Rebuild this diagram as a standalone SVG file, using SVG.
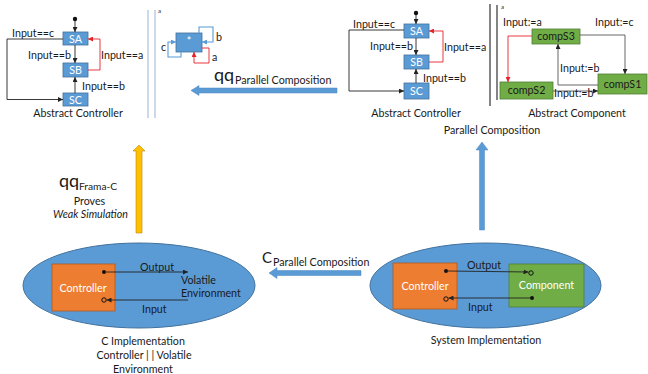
<svg xmlns="http://www.w3.org/2000/svg" width="648" height="374" viewBox="0 0 648 374">
  <style>
    text { font-family: Lato, "Open Sans", "Liberation Sans", sans-serif; fill: #1a1a1a; font-size: 10.7px; }
    .mid { text-anchor: middle; }
    .wt { fill: #fff; }
    .st { fill: #5b9bd5; stroke: #41719c; stroke-width: 0.8; }
    .gr { fill: #70ad47; stroke: #507e32; stroke-width: 0.8; }
    .or { fill: #ed7d31; stroke: #ae5a21; stroke-width: 0.8; }
    .ell { fill: #5b9bd5; stroke: #41719c; stroke-width: 1; }
    .ln { fill: none; stroke: #222; stroke-width: 0.9; marker-end: url(#ah); }
    .red { fill: none; stroke: #e8222a; stroke-width: 0.9; marker-end: url(#ahr); }
    .blu { fill: none; stroke: #5b9bd5; stroke-width: 1.1; marker-end: url(#ahb); }
    .gry { fill: none; stroke: #555; stroke-width: 0.9; marker-end: url(#ah); }
    .big { fill: #5b9bd5; stroke: #4a86c0; stroke-width: 0.5; }
    .sep1 { stroke: #a9c0da; stroke-width: 1.2; }
    .sep2 { stroke: #333; stroke-width: 1.2; }
    .tiny { font-size: 6px; }
    .open { fill: none; stroke: #111; stroke-width: 1; }
    .q { font-size: 18px; }
  </style>
  <defs>
    <marker id="ah" viewBox="0 0 6 6" refX="6" refY="3" markerWidth="5" markerHeight="5" orient="auto" markerUnits="userSpaceOnUse">
      <path d="M0,0 L6,3 L0,6 z" fill="#222"/>
    </marker>
    <marker id="ahr" viewBox="0 0 6 6" refX="6" refY="3" markerWidth="5" markerHeight="5" orient="auto" markerUnits="userSpaceOnUse">
      <path d="M0,0 L6,3 L0,6 z" fill="#e8222a"/>
    </marker>
    <marker id="ahb" viewBox="0 0 6 6" refX="6" refY="3" markerWidth="5" markerHeight="5" orient="auto" markerUnits="userSpaceOnUse">
      <path d="M0,0 L6,3 L0,6 z" fill="#5b9bd5"/>
    </marker>
  </defs>

  <!-- abstract controller, left copy -->
  <g id="ctrlL-init"><circle cx="75" cy="19" r="2.2" fill="#111"/></g>
  <g id="ctrlL-SA"><rect class="st" x="63" y="32" width="25" height="13"/><text class="mid wt" x="75.5" y="42.5">SA</text></g>
  <g id="ctrlL-SB"><rect class="st" x="63" y="63" width="25" height="14"/><text class="mid wt" x="75.5" y="74">SB</text></g>
  <g id="ctrlL-SC"><rect class="st" x="63" y="93" width="25" height="13"/><text class="mid wt" x="75.5" y="103.5">SC</text></g>
  <g id="ctrlL-caption"><text class="mid" x="78" y="117">Abstract Controller</text></g>

  <!-- collapsed single-state controller -->
  <g id="star"><rect class="st" x="176" y="33" width="26" height="19"/><text class="mid wt" x="189" y="45">*</text></g>

  <!-- abstract controller, right copy -->
  <g id="ctrlR-init"><circle cx="416" cy="13" r="2.2" fill="#111"/></g>
  <g id="ctrlR-SA"><rect class="st" x="404" y="24" width="25" height="14"/><text class="mid wt" x="416.5" y="35">SA</text></g>
  <g id="ctrlR-SB"><rect class="st" x="404" y="55" width="25" height="14"/><text class="mid wt" x="416.5" y="66">SB</text></g>
  <g id="ctrlR-SC"><rect class="st" x="404" y="83" width="25" height="16"/><text class="mid wt" x="416.5" y="95">SC</text></g>
  <g id="ctrlR-caption"><text class="mid" x="416" y="117">Abstract Controller</text></g>

  <!-- abstract component -->
  <g id="compS3"><rect class="gr" x="532" y="29" width="48" height="15"/><text class="mid" x="556" y="40">compS3</text></g>
  <g id="compS1"><rect class="gr" x="598" y="74" width="49" height="20"/><text class="mid" x="622.5" y="87.5">compS1</text></g>
  <g id="compS2"><rect class="gr" x="500" y="82" width="53" height="17"/><text class="mid" x="526.5" y="94">compS2</text></g>
  <g id="comp-caption"><text class="mid" x="577" y="117">Abstract Component</text></g>
  <g id="par-caption"><text class="mid" x="492" y="134">Parallel Composition</text></g>

  <!-- separators -->
  <g id="sepL">
    <line class="sep1" x1="148" y1="10" x2="148" y2="118"/>
    <line class="sep1" x1="155" y1="10" x2="155" y2="118"/>
    <text class="tiny" x="158" y="13">a</text>
  </g>
  <g id="sepR">
    <line class="sep2" x1="490" y1="4" x2="490" y2="106"/>
    <line class="sep2" x1="497" y1="5" x2="497" y2="100"/>
    <text class="tiny" x="501" y="9">a</text>
  </g>

  <!-- C implementation -->
  <g id="cimpl">
    <ellipse class="ell" cx="139" cy="285.5" rx="116" ry="42.5"/>
    <rect class="or" x="52" y="264" width="63" height="47"/>
    <text class="mid wt" x="83" y="291.5">Controller</text>
    <circle cx="104" cy="272" r="2" fill="#111"/>
    <circle class="open" cx="104" cy="300" r="2.2"/>
    <text x="140" y="271">Output</text>
    <text x="181" y="284">Volatile</text>
    <text x="181" y="297">Environment</text>
    <text x="142" y="313">Input</text>
    <text class="mid" x="143" y="345">C Implementation</text>
    <text class="mid" x="144" y="359">Controller | | Volatile</text>
    <text class="mid" x="143" y="372.5">Environment</text>
  </g>

  <!-- system implementation -->
  <g id="sysimpl">
    <ellipse class="ell" cx="485.5" cy="285.5" rx="115.5" ry="42.5"/>
    <rect class="or" x="393" y="263" width="64" height="46"/>
    <rect class="gr" x="509" y="264" width="75" height="43"/>
    <text class="mid wt" x="425" y="290">Controller</text>
    <text class="mid wt" x="546.5" y="289">Component</text>
    <circle cx="446" cy="271" r="2" fill="#111"/>
    <circle class="open" cx="531" cy="273" r="2.2"/>
    <circle cx="532" cy="298" r="2" fill="#111"/>
    <circle class="open" cx="446" cy="299" r="2.2"/>
    <text x="467" y="269">Output</text>
    <text x="468" y="311">Input</text>
    <text class="mid" x="486" y="344">System Implementation</text>
  </g>

  <g id="connectors">
    <!-- left controller transitions -->
    <line class="ln" x1="75" y1="21" x2="75" y2="32"/>
    <line class="ln" x1="75" y1="45" x2="75" y2="63"/>
    <line class="ln" x1="75" y1="93" x2="75" y2="77"/>
    <path class="ln" d="M63,39 H7 V99.5 H63"/>
    <path class="red" d="M88,70 H100 V39 H88"/>
    <text x="12" y="37">Input==c</text>
    <text x="28" y="59">Input==b</text>
    <text x="101" y="59">Input==a</text>
    <text x="82" y="90">Input==b</text>

    <!-- self loops of the collapsed state -->
    <path class="blu" d="M181,52 V57 H168 V42 H176"/>
    <path class="blu" d="M199,33 V27 H213 V42 H202"/>
    <path class="red" d="M202,48 H209 V63 H194 V52"/>
    <text x="161" y="51">c</text>
    <text x="216" y="41">b</text>
    <text x="212" y="61">a</text>

    <!-- right controller transitions -->
    <line class="ln" x1="416" y1="15" x2="416" y2="24"/>
    <line class="ln" x1="416" y1="38" x2="416" y2="55"/>
    <line class="ln" x1="416" y1="83" x2="416" y2="69"/>
    <path class="ln" d="M404,30 H349 V91 H404"/>
    <path class="red" d="M429,62 H443 V31 H429"/>
    <text x="353" y="28">Input==c</text>
    <text x="370" y="50">Input==b</text>
    <text x="444" y="51">Input==a</text>
    <text x="423" y="82">Input==b</text>

    <!-- component transitions -->
    <path class="gry" d="M580,35 H625 V74"/>
    <path class="red" d="M532,36 H508 V82"/>
    <path class="gry" d="M598,85 H558 V44"/>
    <path class="gry" d="M553,91 H598"/>
    <text x="503" y="26">Input:=a</text>
    <text x="595" y="26">Input:=c</text>
    <text x="560" y="72">Input:=b</text>
    <text x="554" y="97">Input:=b</text>

    <!-- implementation signals -->
    <line class="ln" x1="106" y1="272" x2="188" y2="272"/>
    <line class="ln" x1="188" y1="300" x2="106.5" y2="300"/>
    <line class="ln" x1="448" y1="271" x2="528.5" y2="272"/>
    <line class="ln" x1="530" y1="298" x2="448.5" y2="298"/>

    <!-- block arrows between levels -->
    <polygon class="big" points="191,90.5 199,85.5 199,88 337,88 337,93 199,93 199,95.5"/>
    <text class="q" x="214" y="81">qq</text>
    <text x="235" y="84">Parallel Composition</text>

    <polygon class="big" points="269,273 277,267.5 277,270.5 361,270.5 361,275.5 277,275.5 277,278.5"/>
    <text x="262" y="263" style="font-size:15px">C</text>
    <text x="273" y="266">Parallel Composition</text>

    <polygon class="big" points="482,142 488,150 484.5,150 484.5,230 479.5,230 479.5,150 476,150"/>

    <polygon points="139,145 145,151 142,151 142,233 136,233 136,151 133,151" fill="#ffc000" stroke="#b8860b" stroke-width="0.6"/>
    <text class="q" x="59" y="187">qq</text>
    <text x="79" y="189.5" style="font-size:10.2px">Frama-C</text>
    <text class="mid" x="89.5" y="205">Proves</text>
    <text class="mid" x="90.5" y="218" style="font-style:italic">Weak Simulation</text>
  </g>
</svg>
